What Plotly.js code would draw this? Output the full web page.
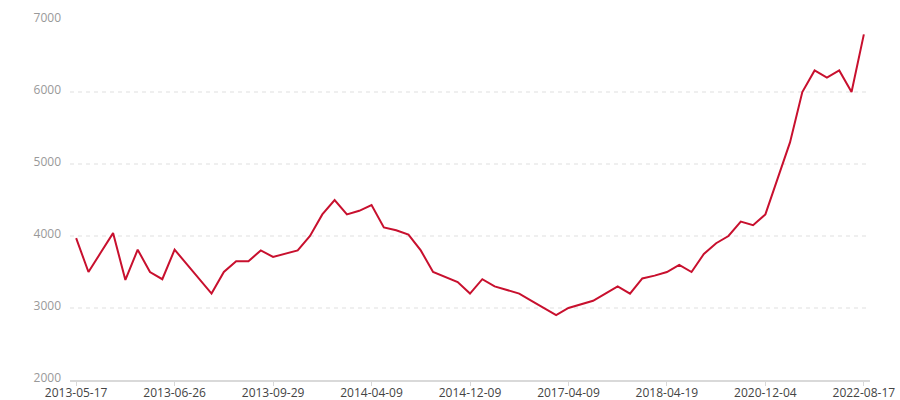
<!DOCTYPE html>
<html>
<head>
<meta charset="utf-8">
<script src="https://cdn.plot.ly/plotly-3.0.1.min.js"></script>
<style>html,body{margin:0;padding:0;background:#fff;}#chart{width:900px;height:400px;}</style>
</head>
<body>
<div id="chart"></div>
<script>
const dates = [
  "2013-05-17","2013-05-20","2013-05-23","2013-05-27","2013-05-31","2013-06-04","2013-06-10","2013-06-18",
  "2013-06-26","2013-07-05","2013-07-15","2013-07-24","2013-08-02","2013-08-12","2013-08-22","2013-09-10",
  "2013-09-29","2013-10-15","2013-10-30","2013-11-14","2013-12-02","2013-12-20","2014-01-15","2014-02-20",
  "2014-04-09","2014-05-06","2014-05-30","2014-06-25","2014-07-20","2014-08-18","2014-09-15","2014-10-20",
  "2014-12-09","2015-03-10","2015-06-15","2015-09-20","2015-12-10","2016-03-15","2016-07-20","2016-11-25",
  "2017-04-09","2017-05-20","2017-07-10","2017-08-30","2017-10-15","2017-12-01","2018-01-20","2018-03-05",
  "2018-04-19","2018-08-10","2018-12-05","2019-03-20","2019-07-10","2019-10-25","2020-02-15","2020-07-20",
  "2020-12-04","2021-03-10","2021-06-15","2021-09-10","2021-12-05","2022-02-15","2022-04-20","2022-06-25",
  "2022-08-17"
];
const values = [
  3970,3500,3770,4040,3390,3810,3500,3400,
  3810,3610,3410,3200,3500,3650,3650,3800,
  3710,3760,3800,4000,4300,4500,4300,4350,
  4430,4120,4080,4020,3800,3500,3430,3360,
  3200,3400,3300,3250,3200,3100,3000,2900,
  3000,3050,3100,3200,3300,3200,3410,3450,
  3500,3600,3500,3750,3900,4000,4200,4150,
  4300,4800,5300,6000,6300,6200,6300,6000,
  6800
];
const tickLabels = ["2013-05-17","2013-06-26","2013-09-29","2014-04-09","2014-12-09","2017-04-09","2018-04-19","2020-12-04","2022-08-17"];
const yTicks = [2000,3000,4000,5000,6000,7000];

Plotly.newPlot('chart', [{
  type: 'scatter',
  mode: 'lines',
  x: dates,
  y: values,
  line: {color: '#c8102e', width: 2},
  hoverinfo: 'x+y'
}], {
  width: 900, height: 400,
  margin: {l: 70, r: 30, t: 20, b: 20},
  paper_bgcolor: '#fff', plot_bgcolor: '#fff',
  showlegend: false,
  font: {family: '"Open Sans", "Noto Sans", sans-serif', size: 12, color: '#333'},
  xaxis: {
    type: 'category',
    range: [-0.5, dates.length - 0.5],
    tickmode: 'array',
    tickvals: tickLabels,
    ticktext: tickLabels,
    showgrid: false,
    zeroline: false,
    showline: true,
    linecolor: '#d9d9d9',
    linewidth: 2,
    ticks: 'outside',
    ticklen: 4,
    tickcolor: '#d9d9d9',
    ticklabelstandoff: -3,
    tickfont: {color: '#444', size: 12},
    automargin: false
  },
  yaxis: {
    range: [2000, 7000],
    tickmode: 'array',
    tickvals: yTicks,
    showgrid: true,
    gridcolor: '#efefef',
    griddash: '4px,4px',
    gridwidth: 2,
    zeroline: false,
    showline: false,
    ticks: '',
    ticklabelstandoff: 8,
    ticklabelshift: -2,
    tickfont: {color: '#999', size: 12},
    automargin: false
  }
}, {displayModeBar: false, staticPlot: true});
</script>
</body>
</html>
